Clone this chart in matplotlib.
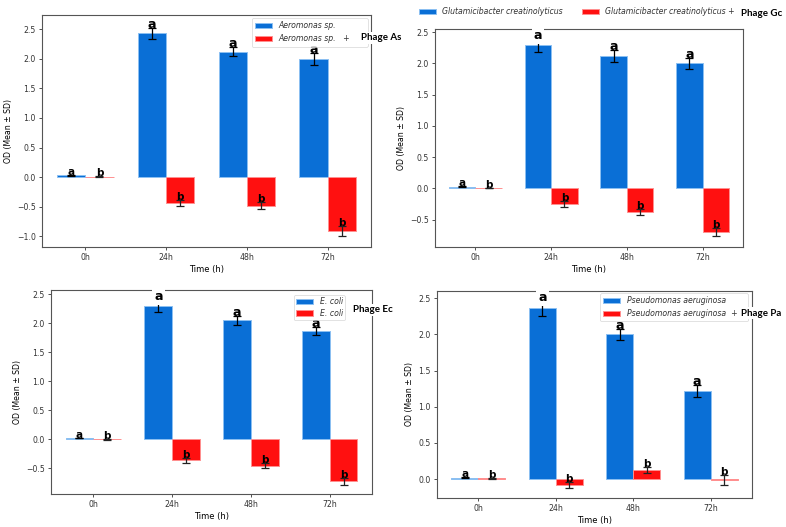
import numpy as np
import matplotlib
matplotlib.use("Agg")
import matplotlib.pyplot as plt

plt.rcParams["font.family"] = ["DejaVu Sans"]

times = ["0h", "24h", "48h", "72h"]

# Aeromonas sp.
aero_ctrl = [0.03, 2.43, 2.12, 2.00]
aero_ctrl_sd = [0.01, 0.09, 0.08, 0.10]
aero_phage = [0.01, -0.43, -0.48, -0.91]
aero_phage_sd = [0.01, 0.05, 0.06, 0.08]

# Glutamicibacter creatinolyticus
glut_ctrl = [0.03, 2.29, 2.12, 2.00]
glut_ctrl_sd = [0.01, 0.10, 0.09, 0.09]
glut_phage = [0.01, -0.25, -0.38, -0.70]
glut_phage_sd = [0.005, 0.045, 0.05, 0.065]

# E. coli
ecoli_ctrl = [0.02, 2.30, 2.05, 1.87]
ecoli_ctrl_sd = [0.005, 0.10, 0.075, 0.07]
ecoli_phage = [0.0, -0.36, -0.45, -0.72]
ecoli_phage_sd = [0.005, 0.04, 0.05, 0.06]

# Pseudomonas aeruginosa
pseudo_ctrl = [0.02, 2.36, 2.00, 1.22]
pseudo_ctrl_sd = [0.01, 0.10, 0.075, 0.085]
pseudo_phage = [0.01, -0.08, 0.13, -0.015]
pseudo_phage_sd = [0.01, 0.045, 0.045, 0.07]

W, H = 786, 527
BLUE = "#0a6fd6"
RED = "#ff1010"
FS = 5.6


def px_rect(l, r, t, b):
    return [l / W, 1 - b / H, (r - l) / W, (b - t) / H]


def draw_panel(fig, rect, ctrl, ctrl_sd, phage, phage_sd, ylim, lab1, lab2,
               legend_kw, patch_a=False):
    ax = fig.add_axes(rect)
    x = np.arange(len(times))
    w = 0.35
    ax.bar(x - w / 2, ctrl, w, yerr=ctrl_sd, capsize=3, color=BLUE,
           edgecolor="#8cc0f2", linewidth=0.7, label=lab1,
           error_kw=dict(elinewidth=0.9, capthick=0.9, ecolor="black"))
    ax.bar(x + w / 2, phage, w, yerr=phage_sd, capsize=3, color=RED,
           edgecolor="#ff9090", linewidth=0.7, label=lab2,
           error_kw=dict(elinewidth=0.9, capthick=0.9, ecolor="#222222"))
    ax.set_ylim(*ylim)
    ax.set_xticks(x)
    ax.set_xticklabels(times)
    ax.set_xlabel("Time (h)", fontsize=FS + 0.4, labelpad=2)
    ax.set_ylabel("OD (Mean \u00b1 SD)", fontsize=FS, labelpad=3)
    ax.tick_params(labelsize=FS, length=2.5, width=0.6, pad=2,
                   colors="#333333")
    for s in ax.spines.values():
        s.set_color("#555555")
        s.set_linewidth(0.8)

    for i in range(len(times)):
        fs = 7.5 if i == 0 else 9
        ya = ctrl[i] + ctrl_sd[i]
        kw = {}
        if patch_a and i == 1:
            kw = dict(bbox=dict(facecolor="white", edgecolor="none", pad=1.5))
        ax.text(x[i] - w / 2, ya, "a", ha="center", va="baseline",
                fontsize=fs, fontweight="bold", zorder=5, **kw)
        yb = phage[i] + phage_sd[i]
        ax.text(x[i] + w / 2, yb, "b", ha="center", va="baseline",
                fontsize=7.5, fontweight="bold", zorder=5)

    leg = ax.legend(prop=dict(style="italic", size=FS), handlelength=2.2,
                    borderaxespad=0, **legend_kw)
    leg.get_frame().set_linewidth(0.5)
    for t in leg.get_texts():
        t.set_color("#333333")
    return ax


fig = plt.figure(figsize=(W / 100, H / 100), dpi=100)

draw_panel(fig, px_rect(42, 371, 15, 247), aero_ctrl, aero_ctrl_sd,
           aero_phage, aero_phage_sd, (-1.18, 2.74),
           "Aeromonas sp.", "Aeromonas sp.   +      ",
           dict(loc="upper right", bbox_to_anchor=(0.991, 0.987),
                labelspacing=0.55))

draw_panel(fig, px_rect(435, 743, 29, 247), glut_ctrl, glut_ctrl_sd,
           glut_phage, glut_phage_sd, (-0.936, 2.55),
           "Glutamicibacter creatinolyticus",
           "Glutamicibacter creatinolyticus +",
           dict(loc="lower center", bbox_to_anchor=(0.46, 1.045), ncol=2,
                frameon=False, columnspacing=2.4),
           patch_a=True)

draw_panel(fig, px_rect(51, 372, 290, 494), ecoli_ctrl, ecoli_ctrl_sd,
           ecoli_phage, ecoli_phage_sd, (-0.94, 2.57),
           "E. coli", "E. coli",
           dict(loc="upper right", bbox_to_anchor=(0.916, 0.975),
                labelspacing=0.3, borderpad=0.3),
           patch_a=True)

draw_panel(fig, px_rect(437, 752, 291, 498), pseudo_ctrl, pseudo_ctrl_sd,
           pseudo_phage, pseudo_phage_sd, (-0.26, 2.60),
           "Pseudomonas aeruginosa", "Pseudomonas aeruginosa  +   ",
           dict(loc="upper right", bbox_to_anchor=(0.987, 0.99),
                labelspacing=0.5),
           patch_a=True)

phage_labels = [("Phage As", 361, 38), ("Phage Gc", 741, 14),
                ("Phage Ec", 353, 310), ("Phage Pa", 741, 313)]
for txt, px, py in phage_labels:
    fig.text(px / W, 1 - py / H, txt, ha="left", va="center",
             fontsize=7, fontweight="bold", family=["Lato", "DejaVu Sans"],
             bbox=dict(facecolor="white", edgecolor="none", pad=1.0),
             zorder=10)

fig.savefig("out.png", dpi=100)
